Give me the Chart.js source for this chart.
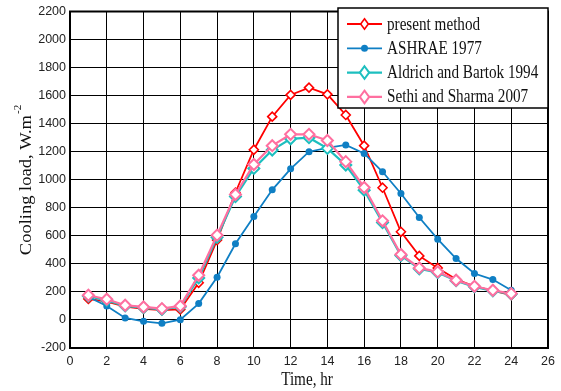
<!DOCTYPE html>
<html>
<head>
<meta charset="utf-8">
<script src="https://cdn.jsdelivr.net/npm/chart.js@4.4.0/dist/chart.umd.min.js"></script>
<style>
html,body{margin:0;padding:0;background:#fff;}
canvas{display:block;}
</style>
</head>
<body>
<canvas id="c" width="561" height="391"></canvas>
<script>
const hours = [1,2,3,4,5,6,7,8,9,10,11,12,13,14,15,16,17,18,19,20,21,22,23,24];
const presentMethod = [150,130,95,80,70,75,265,570,909,1214,1450,1605,1657,1609,1462,1243,943,629,457,371,290,240,209,178];
const ashrae1977   = [164,100,14,-10,-24,2,117,305,543,738,928,1078,1200,1228,1248,1188,1057,902,731,576,438,331,288,212];
const aldrich1994  = [170,140,100,88,76,95,300,590,880,1081,1212,1292,1300,1224,1105,926,695,460,365,338,280,236,208,186];
const sethi2007    = [176,148,105,93,81,100,319,605,895,1109,1243,1324,1324,1280,1129,945,707,467,371,343,283,240,212,188];
const seriesNames  = ['present method','ASHRAE 1977','Aldrich and Bartok 1994','Sethi and Sharma 2007'];
const xTitle = 'Time, hr';
const yTitle = 'Cooling load, W.m';
const yTitleSup = '-2';

const toXY = arr => arr.map((v,i)=>({x:hours[i], y:v}));

const serif = '"Liberation Serif","Times New Roman",serif';
const sans = '"Liberation Sans",Arial,sans-serif';
const SX = 0.82; // horizontal squeeze of serif text as in the reference

function squeezedText(ctx, text, x, y, align){
  ctx.save();
  ctx.translate(x, y);
  ctx.scale(SX, 1);
  ctx.textAlign = align;
  ctx.fillText(text, 0, 0);
  ctx.restore();
}

const decor = {
  id:'decor',
  afterDraw(chart){
    const ctx = chart.ctx, a = chart.chartArea;
    ctx.save();
    // frame
    ctx.strokeStyle='#000'; ctx.lineWidth=2;
    ctx.strokeRect(a.left, a.top, a.right-a.left, a.bottom-a.top);
    // x title
    ctx.fillStyle='#111';
    ctx.textBaseline='alphabetic';
    ctx.font = '18.5px '+serif;
    squeezedText(ctx, xTitle, 307, 384.5, 'center');
    // y title
    ctx.save();
    ctx.translate(31, 180);
    ctx.rotate(-Math.PI/2);
    ctx.scale(1, 0.88);
    ctx.font = '18.5px '+serif;
    const w1 = ctx.measureText(yTitle).width;
    ctx.font = '11px '+serif;
    const w2 = ctx.measureText(yTitleSup).width;
    const start = -(w1+w2+1)/2;
    ctx.font = '18.5px '+serif;
    ctx.textAlign='left';
    ctx.fillText(yTitle, start, 0);
    ctx.font = '11px '+serif;
    ctx.fillText(yTitleSup, start+w1+1, -11);
    ctx.restore();
    // legend
    const lx=338, ly=8, lw=210, lh=100;
    ctx.fillStyle='#fff';
    ctx.fillRect(lx,ly,lw,lh);
    ctx.strokeStyle='#000'; ctx.lineWidth=1.5;
    ctx.strokeRect(lx,ly,lw,lh);
    const ds = chart.data.datasets;
    ds.forEach((d,i)=>{
      const y = 24 + i*24.3;
      ctx.strokeStyle=d.borderColor; ctx.lineWidth=d.borderWidth;
      ctx.beginPath(); ctx.moveTo(347,y); ctx.lineTo(382,y); ctx.stroke();
      const cx=364.5;
      if(d.pointStyle==='circle'){
        ctx.fillStyle=d.pointBackgroundColor;
        ctx.beginPath(); ctx.arc(cx,y,d.pointRadius,0,Math.PI*2); ctx.fill();
      } else {
        const r=d.pointRadius;
        ctx.fillStyle='#fff'; ctx.lineWidth=d.pointBorderWidth; ctx.strokeStyle=d.borderColor;
        ctx.beginPath(); ctx.moveTo(cx,y-r*1.15); ctx.lineTo(cx+r*0.85,y); ctx.lineTo(cx,y+r*1.15); ctx.lineTo(cx-r*0.85,y); ctx.closePath();
        ctx.fill(); ctx.stroke();
      }
      ctx.fillStyle='#111';
      ctx.font='18.5px '+serif;
      ctx.textBaseline='alphabetic';
      squeezedText(ctx, d.label, 387, y+5.5, 'left');
    });
    ctx.restore();
  }
};

const mk = (label,data,color,style,radius,bw,pbw,order,fill)=>({
  label, data: toXY(data), borderColor: color, backgroundColor: color,
  borderWidth: bw, pointStyle: style, pointRadius: radius, pointHoverRadius: radius,
  pointBorderColor: color, pointBackgroundColor: fill, pointBorderWidth: pbw,
  tension: 0, order
});

new Chart(document.getElementById('c'), {
  type:'line',
  data:{
    datasets:[
      mk(seriesNames[0], presentMethod, '#ff0000', 'rectRot', 4.5, 1.8, 1.6, 4, '#fff'),
      mk(seriesNames[1], ashrae1977, '#0f7fc4', 'circle', 3.5, 1.8, 0, 3, '#0f7fc4'),
      mk(seriesNames[2], aldrich1994, '#1dbfbf', 'rectRot', 5.5, 2.2, 2, 2, '#fff'),
      mk(seriesNames[3], sethi2007, '#ff6fa0', 'rectRot', 5.5, 2.2, 2, 1, '#fff')
    ]
  },
  options:{
    responsive:false,
    animation:false,
    events:[],
    layout:{padding:{left:0,right:13,top:10,bottom:0}},
    plugins:{legend:{display:false}, tooltip:{enabled:false}},
    scales:{
      x:{
        type:'linear', min:0, max:26,
        afterFit(s){ s.height = 43; },
        ticks:{stepSize:2, color:'#222', font:{family:sans, size:12.5}, padding:6, maxRotation:0,
               callback:v=>String(v)},
        grid:{color:'#000', lineWidth:1, drawTicks:false},
        border:{display:true, color:'#000', width:2}
      },
      y:{
        type:'linear', min:-200, max:2200,
        afterFit(s){ s.width = 70; },
        ticks:{stepSize:200, color:'#222', font:{family:sans, size:12.5}, padding:4,
               callback:v=>String(v)},
        grid:{color:'#000', lineWidth:1, drawTicks:false},
        border:{display:true, color:'#000', width:2}
      }
    }
  },
  plugins:[decor]
});
</script>
</body>
</html>
